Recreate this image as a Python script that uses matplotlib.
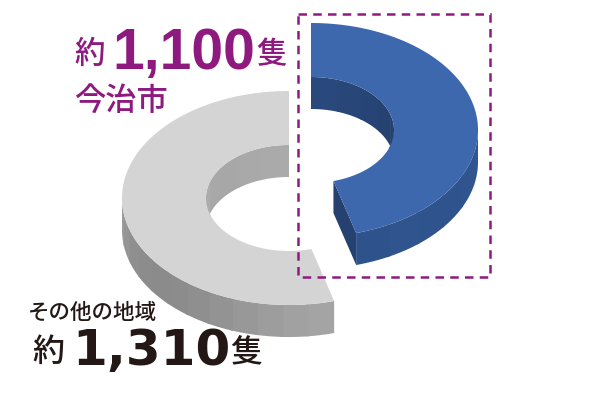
import numpy as np
import matplotlib
matplotlib.use("Agg")
import matplotlib.pyplot as plt
from matplotlib.patches import Rectangle

# vessels per region
regions = ["今治市", "その他の地域"]
ships = [1100, 1310]
ship_labels = ["1,100", "1,310"]

PURPLE = "#8E1A80"
INK = "#231815"
CJK = ["Noto Sans CJK JP", "DejaVu Sans"]

# shade bands along the walls, from the wedge start to its end
blue_outer = ["#31558F", "#30548E", "#2F538D", "#2F538D", "#30548E", "#2E528C"]
blue_inner = ["#29487B", "#284678", "#264475", "#254271", "#25416F", "#25416F"]
gray_outer = ["#A4A4A4", "#A1A1A1", "#9D9D9D", "#989898", "#939393", "#8F8F8F",
              "#8C8C8C", "#8B8B8B", "#8C8C8C", "#8F8F8F", "#959595", "#9B9B9B"]
gray_inner = ["#AAAAAA", "#A9A9A9", "#A7A7A7", "#A8A8A8", "#ABABAB", "#AFAFAF"]


def ring_xy(cx, cy, rx, ry, t):
    # t in degrees, clockwise from 12 o'clock
    t = np.radians(t)
    return cx + rx * np.sin(t), cy - ry * np.cos(t)


def wall(ax, cx, cy, rx, ry, depth, t0, t1, shades, z):
    edges = np.linspace(t0, t1, len(shades) + 1)
    step = np.sign(t1 - t0)
    for i, col in enumerate(shades):
        # strips overlap a little so no seams show between them
        end = edges[i + 1] + (step if i < len(shades) - 1 else 0)
        x, y = ring_xy(cx, cy, rx, ry, np.linspace(edges[i], end, 30))
        ax.fill(np.r_[x, x[::-1]], np.r_[y, y[::-1] + depth], color=col, lw=0, zorder=z)


def top_face(ax, cx, cy, t0, t1, col, z):
    t = np.linspace(t0, t1, 300)
    xo, yo = ring_xy(cx, cy, RX, RY, t)
    xi, yi = ring_xy(cx, cy, RX_IN, RY_IN, t[::-1])
    ax.fill(np.r_[xo, xi], np.r_[yo, yi], color=col, lw=0, zorder=z)


RX, RY = 167, 107
RX_IN, RY_IN = 83, 53
DEPTH = 32

split = 360 * ships[0] / sum(ships)

fig = plt.figure(figsize=(6, 4), dpi=100)
ax = fig.add_axes([0, 0, 1, 1])
ax.set_xlim(0, 600)
ax.set_ylim(400, 0)
ax.axis("off")

# grey wedge
gx, gy = 289, 198
wall(ax, gx, gy, RX_IN, RY_IN, DEPTH, 360, 250, gray_inner, 1)
wall(ax, gx, gy, RX, RY, DEPTH, split, 270, gray_outer, 1)
top_face(ax, gx, gy, split, 360, "#D4D4D4", 2)

ax.add_patch(Rectangle((298, 14), 192, 263, fill=False, ec=PURPLE, lw=1.8,
                       ls=(0, (3.4, 2.5)), zorder=3))

# blue wedge
bx, by = 311, 130
wall(ax, bx, by, RX_IN, RY_IN, DEPTH, 0, 110, blue_inner, 4)
wall(ax, bx, by, RX, RY, DEPTH, 90, split, blue_outer, 4)
x0, y0 = ring_xy(bx, by, RX_IN, RY_IN, split)
x1, y1 = ring_xy(bx, by, RX, RY, split)
ax.fill([x0, x1, x1, x0], [y0, y1, y1 + DEPTH, y0 + DEPTH], color="#25416F", lw=0, zorder=4)
top_face(ax, bx, by, 0, split, "#3D68AE", 5)

# labels
ax.text(74, 63, "約", family=CJK, weight="medium", fontsize=22, color=PURPLE, zorder=6)
ax.text(112, 69, ship_labels[0], family="Liberation Sans", weight="bold", fontsize=41,
        color=PURPLE, zorder=6)
ax.text(256, 63, "隻", family=CJK, weight="medium", fontsize=22, color=PURPLE, zorder=6)
ax.text(74, 110, regions[0], family=CJK, weight="medium", fontsize=22.5, color=PURPLE, zorder=6)

ax.text(28, 319, regions[1], family=CJK, weight="medium", fontsize=15.5, color=INK, zorder=6)
ax.text(32, 361, "約", family=CJK, weight="medium", fontsize=23, color=INK, zorder=6)
ax.text(72, 365, ship_labels[1], family="DejaVu Sans", weight="bold", fontsize=36,
        color=INK, zorder=6)
ax.text(230, 361, "隻", family=CJK, weight="medium", fontsize=23, color=INK, zorder=6)

fig.savefig("out.png", dpi=100)
